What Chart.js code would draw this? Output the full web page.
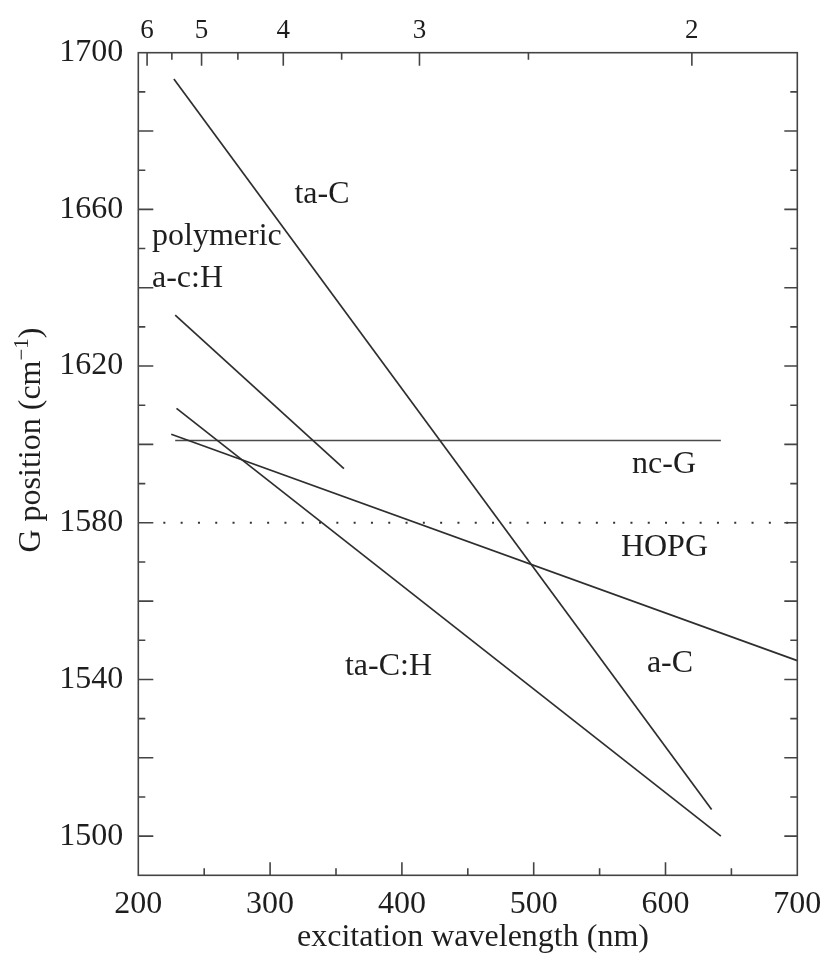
<!DOCTYPE html>
<html>
<head>
<meta charset="utf-8">
<script src="https://cdn.jsdelivr.net/npm/chart.js@4.4.1/dist/chart.umd.min.js"></script>
<style>
  html, body { margin: 0; padding: 0; background: #fff; }
</style>
</head>
<body>
<canvas id="myChart" width="826" height="958"></canvas>
<script>
// axis ticks
var xTicks = [200, 300, 400, 500, 600, 700];
var yTicks = [1500, 1540, 1580, 1620, 1660, 1700];
var eVTicks = [6, 5, 4, 3, 2];

// lines (nm, cm-1)
var taC_x = [227, 635];
var taC_y = [1693.3, 1506.8];
var polyACH_x = [228, 356];
var polyACH_y = [1633, 1593.8];
var taCH_x = [229, 642];
var taCH_y = [1609.2, 1500];
var aC_x = [225, 700];
var aC_y = [1602.6, 1544.8];
var ncG_x = [228, 642];
var ncG_y = [1601, 1601];
var hopg_x = [219, 700];
var hopg_y = [1580, 1580];

// text labels inside the plot (baseline positions)
var labelText = ['ta-C', 'polymeric', 'a-c:H', 'nc-G', 'HOPG', 'ta-C:H', 'a-C'];
var labelX = [339.4, 210.4, 210.4, 598.9, 599.2, 356.8, 603.4];
var labelY = [1661.6, 1650.9, 1640.2, 1592.8, 1571.6, 1541.1, 1541.9];
var labelAlign = ['center', 'left', 'left', 'center', 'center', 'left', 'center'];

var serif = '"Liberation Serif", "Times New Roman", Times, "DejaVu Serif", serif';
var ink = '#1e1e1e';
var lineCol = '#2e2e2e';

function pts(xs, ys) {
    return xs.map(function (x, i) { return { x: x, y: ys[i] }; });
}

function lineSet(xs, ys, extra) {
    var d = {
        data: pts(xs, ys),
        showLine: true,
        borderColor: lineCol,
        borderWidth: 1.7,
        pointRadius: 0,
        fill: false
    };
    return Object.assign(d, extra || {});
}

var decor = {
    id: 'decor',
    afterDraw: function (chart) {
        var ctx = chart.ctx;
        var a = chart.chartArea;
        var sx = chart.scales.x;
        var sy = chart.scales.y;
        ctx.save();
        ctx.strokeStyle = '#444';
        ctx.lineWidth = 1.6;
        ctx.strokeRect(a.left, a.top, a.right - a.left, a.bottom - a.top);

        ctx.beginPath();
        // bottom ticks (inward)
        for (var v = 250; v < 700; v += 50) {
            var px = sx.getPixelForValue(v);
            var len = (v % 100 === 0) ? 13 : 7;
            ctx.moveTo(px, a.bottom);
            ctx.lineTo(px, a.bottom - len);
        }
        // top ticks, photon energy in eV
        for (var e = 6; e >= 2; e -= 0.5) {
            var pe = sx.getPixelForValue(1240 / e);
            var le = (e % 1 === 0) ? 13 : 7;
            ctx.moveTo(pe, a.top);
            ctx.lineTo(pe, a.top + le);
        }
        // left and right ticks
        for (var g = 1500; g < 1700; g += 10) {
            var py = sy.getPixelForValue(g);
            var major = (g % 20 === 0);
            ctx.moveTo(a.left, py);
            ctx.lineTo(a.left + (major ? 15 : 7), py);
            ctx.moveTo(a.right, py);
            ctx.lineTo(a.right - (major ? 13 : 7), py);
        }
        ctx.stroke();

        // labels
        ctx.fillStyle = ink;
        ctx.font = '32px ' + serif;
        ctx.textBaseline = 'alphabetic';
        for (var i = 0; i < labelText.length; i++) {
            ctx.textAlign = labelAlign[i];
            ctx.fillText(labelText[i], sx.getPixelForValue(labelX[i]), sy.getPixelForValue(labelY[i]));
        }

        // x title
        ctx.textAlign = 'center';
        ctx.fillText('excitation wavelength (nm)', 473, 946);

        // y title with superscript
        ctx.textAlign = 'left';
        var t1 = 'G position (cm';
        var w1 = ctx.measureText(t1).width;
        ctx.font = '21px ' + serif;
        var t2 = '\u22121';
        var w2 = ctx.measureText(t2).width;
        ctx.font = '32px ' + serif;
        var w3 = ctx.measureText(')').width;
        var total = w1 + w2 + w3;
        ctx.translate(40, 440 + total / 2);
        ctx.rotate(-Math.PI / 2);
        ctx.fillText(t1, 0, 0);
        ctx.fillText(')', w1 + w2, 0);
        ctx.font = '21px ' + serif;
        ctx.fillText(t2, w1, -12);
        ctx.restore();
    }
};

var ctx = document.getElementById('myChart').getContext('2d');
var chart = new Chart(ctx, {
    type: 'scatter',
    data: {
        datasets: [
            lineSet(taC_x, taC_y),
            lineSet(polyACH_x, polyACH_y),
            lineSet(taCH_x, taCH_y),
            lineSet(aC_x, aC_y),
            lineSet(ncG_x, ncG_y, { borderColor: '#4a4a4a' }),
            lineSet(hopg_x, hopg_y, { borderColor: '#333', borderWidth: 2, borderDash: [2, 15.3] })
        ]
    },
    options: {
        responsive: false,
        animation: false,
        layout: { padding: { left: 0, right: 28.7, top: 0, bottom: 0 } },
        plugins: {
            legend: { display: false },
            tooltip: { enabled: false }
        },
        scales: {
            x: {
                type: 'linear',
                position: 'bottom',
                min: 200,
                max: 700,
                afterBuildTicks: function (s) {
                    s.ticks = xTicks.map(function (v) { return { value: v }; });
                },
                ticks: {
                    callback: function (v) { return String(v); },
                    font: { family: serif, size: 32 },
                    color: ink,
                    padding: 10,
                    maxRotation: 0,
                    autoSkip: false
                },
                grid: { display: false, drawTicks: false },
                border: { display: false },
                afterFit: function (s) {
                    s.height = 82.7;
                    s.paddingLeft = 0;
                    s.paddingRight = 0;
                }
            },
            x2: {
                type: 'linear',
                position: 'top',
                min: 200,
                max: 700,
                afterBuildTicks: function (s) {
                    s.ticks = eVTicks.map(function (e) { return { value: 1240 / e }; });
                },
                ticks: {
                    callback: function (v, i) { return String(eVTicks[i]); },
                    font: { family: serif, size: 27 },
                    color: ink,
                    padding: 6,
                    maxRotation: 0,
                    autoSkip: false
                },
                grid: { display: false, drawTicks: false },
                border: { display: false },
                afterFit: function (s) {
                    s.height = 52.7;
                    s.paddingLeft = 0;
                    s.paddingRight = 0;
                }
            },
            y: {
                type: 'linear',
                position: 'left',
                min: 1490,
                max: 1700,
                afterBuildTicks: function (s) {
                    s.ticks = yTicks.map(function (v) { return { value: v }; });
                },
                ticks: {
                    callback: function (v) { return String(v); },
                    font: { family: serif, size: 32 },
                    color: ink,
                    padding: 15
                },
                grid: { display: false, drawTicks: false },
                border: { display: false },
                afterFit: function (s) {
                    s.width = 138.3;
                    s.paddingTop = 0;
                    s.paddingBottom = 0;
                }
            }
        }
    },
    plugins: [decor]
});
</script>
</body>
</html>
